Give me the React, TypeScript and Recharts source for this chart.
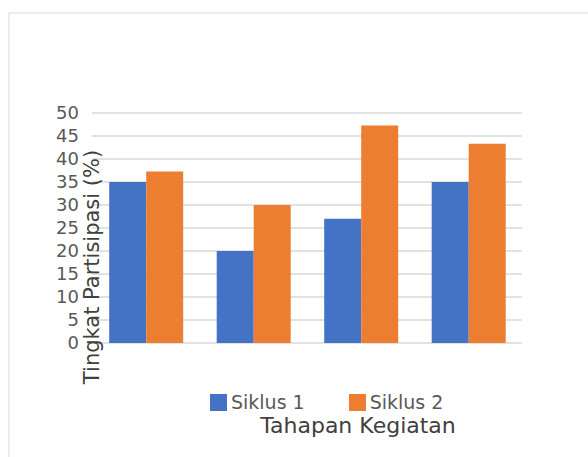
import React from "react";
import { BarChart, Bar, XAxis, YAxis, CartesianGrid, Legend } from "recharts";

const categories = ["Tahap 1", "Tahap 2", "Tahap 3", "Tahap 4"];
const siklus1 = [35, 20, 27, 35];
const siklus2 = [37.3, 30, 47.3, 43.3];
const yTicks = [0, 5, 10, 15, 20, 25, 30, 35, 40, 45, 50];
const seriesNames = ["Siklus 1", "Siklus 2"];
const yTitle = "Tingkat Partisipasi (%)";
const xTitle = "Tahapan Kegiatan";

const data = categories.map((c, i) => ({ name: c, s1: siklus1[i], s2: siklus2[i] }));

const FONT = "'DejaVu Sans', sans-serif";
const W = 588;
const H = 457;
const PLOT_LEFT = 92;
const PLOT_RIGHT = 522;
const PLOT_TOP = 113;
const PLOT_BOTTOM = 343;

const LegendContent = (props: any) => {
  const { payload } = props;
  return (
    <div style={{ display: "flex", flexDirection: "row", fontFamily: FONT }}>
      {(payload || []).map((p: any, i: number) => (
        <div key={i} style={{ display: "flex", alignItems: "center", marginRight: i === 0 ? 44 : 0 }}>
          <div style={{ width: 17, height: 17, background: p.color, marginRight: 4 }} />
          <span style={{ fontSize: 19, color: "#595959", lineHeight: "18px" }}>{p.value}</span>
        </div>
      ))}
    </div>
  );
};

export default function App() {
  return (
    <div style={{ position: "absolute", left: 0, top: 0, width: W, height: H, background: "#fff", overflow: "hidden" }}>
      <div style={{ position: "absolute", left: 8, top: 12, width: 620, height: 480, border: "2px solid #ececec", boxSizing: "border-box" }} />
      <div style={{ position: "absolute", left: 0, top: 0 }}>
        <BarChart
          width={W}
          height={H}
          data={data}
          margin={{ top: PLOT_TOP, right: W - PLOT_RIGHT, bottom: H - PLOT_BOTTOM, left: PLOT_LEFT - 60 }}
          barCategoryGap="16%"
          barGap={0}
        >
          <CartesianGrid horizontal vertical={false} stroke="#d9d9d9" strokeWidth={1.5} />
          <XAxis dataKey="name" tick={false} tickLine={false} height={0} axisLine={{ stroke: "#d9d9d9", strokeWidth: 1.5 }} />
          <YAxis
            width={60}
            domain={[0, 50]}
            ticks={yTicks}
            interval={0}
            axisLine={false}
            tickLine={false}
            tickSize={0}
            tickMargin={13}
            tick={{ fontSize: 18, fill: "#595959", fontFamily: FONT }}
          />
          <Legend
            layout="horizontal"
            verticalAlign="middle"
            align="center"
            content={<LegendContent />}
            wrapperStyle={{ position: "absolute", left: 210, top: 393, width: 300 }}
          />
          <Bar dataKey="s1" name={seriesNames[0]} fill="#4472C4" isAnimationActive={false} />
          <Bar dataKey="s2" name={seriesNames[1]} fill="#ED7D31" isAnimationActive={false} />
        </BarChart>
      </div>
      <svg style={{ position: "absolute", left: 0, top: 0, pointerEvents: "none" }} width={W} height={H}>
        <text
          x={92}
          y={267}
          transform="rotate(-90, 92, 267)"
          textAnchor="middle"
          dominantBaseline="central"
          fontSize={21}
          fill="#404040"
          fontFamily={FONT}
        >
          {yTitle}
        </text>
        <text x={358} y={425} textAnchor="middle" dominantBaseline="central" fontSize={22} fill="#404040" fontFamily={FONT}>
          {xTitle}
        </text>
      </svg>
    </div>
  );
}
